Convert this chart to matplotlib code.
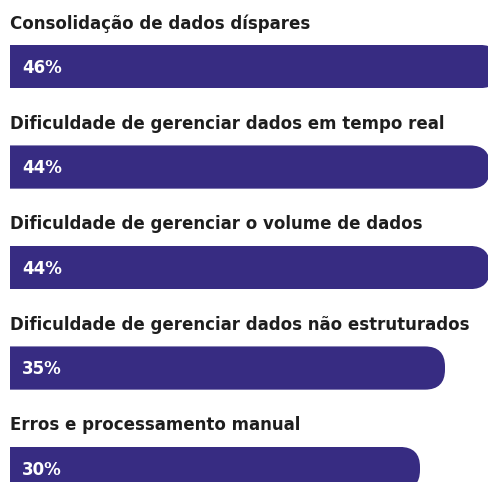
import matplotlib
matplotlib.use("Agg")
import matplotlib.pyplot as plt
from matplotlib.patches import FancyBboxPatch

labels = [
    "Consolidação de dados díspares",
    "Dificuldade de gerenciar dados em tempo real",
    "Dificuldade de gerenciar o volume de dados",
    "Dificuldade de gerenciar dados não estruturados",
    "Erros e processamento manual",
]
values = [46, 44, 44, 35, 30]

color = "#372c82"
base = -52          # where the bars start on the value axis
bar_h = 0.43
r = 4.0             # rounding radius in value units

fig = plt.figure(figsize=(4.89, 4.82), dpi=100)
ax = fig.add_axes([0, 0, 1, 1])
ax.set_xlim(-54, 43.8)
ax.set_ylim(4.134, -0.662)
ax.axis("off")

# px per unit in x / px per unit in y
aspect = (489 / 97.8) / (482 / 4.796)

bars = ax.barh(range(len(values)), [v - base for v in values], left=base,
               height=bar_h, color=color, linewidth=0)
for i, (lab, v) in enumerate(zip(labels, values)):
    # rounded right end only: clip with a rounded box that starts left of the bar
    clip = FancyBboxPatch((base - 3 * r, i - bar_h / 2), v - base + 3 * r, bar_h,
                          boxstyle=f"round,pad=0,rounding_size={r}",
                          mutation_aspect=aspect, transform=ax.transData)
    bars[i].set_clip_path(clip)
    ax.text(base + 2.4, i + 0.01, f"{v}%", color="white", fontsize=12,
            fontweight="bold", family="DejaVu Sans", va="center", ha="left")
    ax.text(base, i - 0.43, lab, color="#1e1e1e", fontsize=12,
            fontweight="bold", family="DejaVu Sans", va="center", ha="left")

fig.savefig("out.png", dpi=100)
